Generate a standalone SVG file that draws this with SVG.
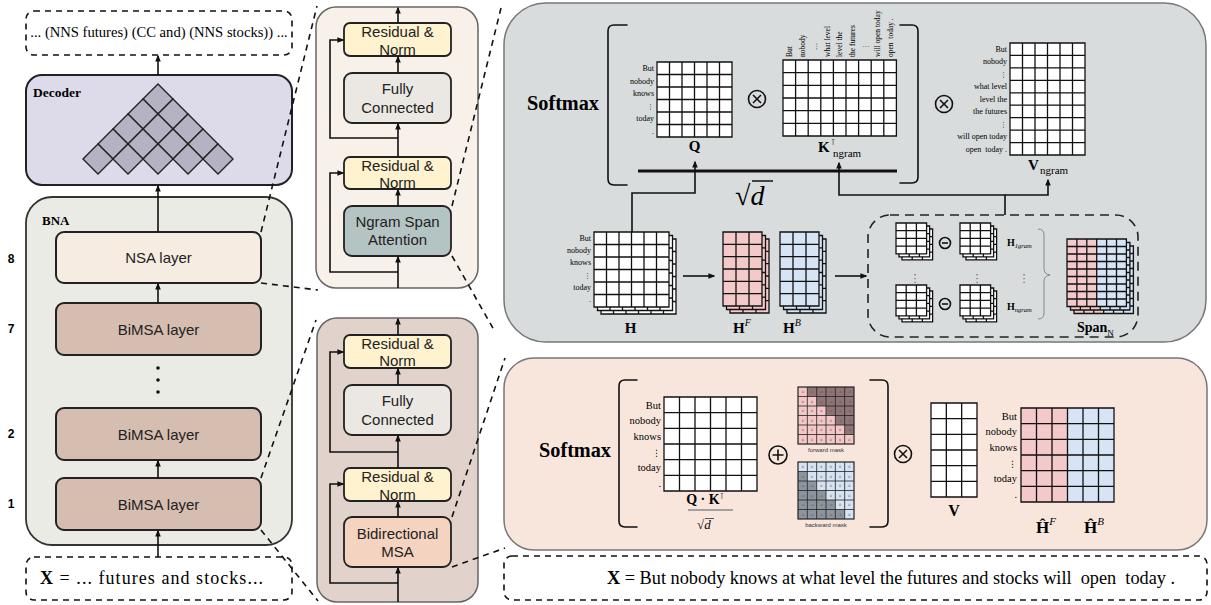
<svg xmlns="http://www.w3.org/2000/svg" xmlns:xlink="http://www.w3.org/1999/xlink" width="1211" height="605" viewBox="0 0 1211 605">
<style>
.sans{font-family:"Liberation Sans",Arial,sans-serif}
.serif{font-family:"Liberation Serif","Times New Roman","DejaVu Serif",serif}
.mth{font-family:"DejaVu Sans",sans-serif}
.lay{stroke:#222;stroke-width:2}
.mid{stroke:#222;stroke-width:1.8}
.gl{fill:none;stroke:#111;stroke-width:1.3}
.gm{fill:none;stroke:#222;stroke-width:0.8}
.dash{fill:none;stroke:#111;stroke-width:1.6;stroke-dasharray:6 5}
.con{fill:none;stroke:#111;stroke-width:1.6}
.arr{marker-end:url(#ah)}
.lt{font-size:15px;text-anchor:middle;fill:#222}
.num{font-size:12px;font-weight:bold;text-anchor:middle}
.lbl{font-size:8px;text-anchor:end}
.lbp{font-size:10.5px;text-anchor:end}
.mk{font-size:3.3px;text-anchor:middle;fill:#444;font-family:"DejaVu Sans",sans-serif}
.op{fill:none;stroke:#111;stroke-width:1.6}
</style>
<defs>
<marker id="ah" viewBox="0 0 10 10" refX="8" refY="5" markerWidth="7" markerHeight="7" orient="auto" markerUnits="userSpaceOnUse"><path d="M0 1L10 5L0 9Z" fill="#111"/></marker>
<path id="dm" d="M0 -15L15 0L0 15L-15 0Z" fill="#b5b3c3" stroke="#222" stroke-width="1.4"/>
<g id="gQ"><rect width="75" height="75" fill="#fff"/><path class="gl" d="M12.5 0V75M25 0V75M37.5 0V75M50 0V75M62.5 0V75M0 12.5H75M0 25H75M0 37.5H75M0 50H75M0 62.5H75M0 0H75V75H0Z"/></g>
<g id="gK"><rect width="113.4" height="76" fill="#fff"/><path class="gl" d="M12.6 0V76M25.2 0V76M37.8 0V76M50.4 0V76M63 0V76M75.6 0V76M88.2 0V76M100.8 0V76M0 12.67H113.4M0 25.33H113.4M0 38H113.4M0 50.67H113.4M0 63.33H113.4M0 0H113.4V76H0Z"/></g>
<g id="gV"><rect width="75" height="112" fill="#fff"/><path class="gl" d="M12.5 0V112M25 0V112M37.5 0V112M50 0V112M62.5 0V112M0 12.44H75M0 24.89H75M0 37.33H75M0 49.78H75M0 62.22H75M0 74.67H75M0 87.11H75M0 99.56H75M0 0H75V112H0Z"/></g>
<g id="stkH"><use xlink:href="#gQ" x="7" y="7"/><use xlink:href="#gQ" x="3.5" y="3.5"/><use xlink:href="#gQ"/></g>
<path id="l36" class="gl" d="M13 0V74M26 0V74M0 12.33H39M0 24.67H39M0 37H39M0 49.33H39M0 61.67H39M0 0H39V74H0Z"/>
<g id="gHF"><rect width="39" height="74" fill="#f4c9c9"/><use xlink:href="#l36"/></g>
<g id="gHB"><rect width="39" height="74" fill="#d6e4f6"/><use xlink:href="#l36"/></g>
<g id="stkF"><use xlink:href="#gHF" x="7" y="7"/><use xlink:href="#gHF" x="3.5" y="3.5"/><use xlink:href="#gHF"/></g>
<g id="stkB"><use xlink:href="#gHB" x="7" y="7"/><use xlink:href="#gHB" x="3.5" y="3.5"/><use xlink:href="#gHB"/></g>
<g id="gS"><rect width="30.6" height="30.8" fill="#fff"/><path class="gl" stroke-width="1.1" d="M10.2 0V30.8M20.4 0V30.8M0 7.7H30.6M0 15.4H30.6M0 23.1H30.6M0 0H30.6V30.8H0Z"/></g>
<g id="stkS"><use xlink:href="#gS" x="6" y="6"/><use xlink:href="#gS" x="3" y="3"/><use xlink:href="#gS"/></g>
<g id="gSp"><rect width="29.7" height="67.5" fill="#f4c9c9"/><rect x="29.7" width="29.7" height="67.5" fill="#d6e4f6"/><path class="gl" stroke-width="1.1" d="M9.9 0V67.5M19.8 0V67.5M29.7 0V67.5M39.6 0V67.5M49.5 0V67.5M0 7.5H59.4M0 15H59.4M0 22.5H59.4M0 30H59.4M0 37.5H59.4M0 45H59.4M0 52.5H59.4M0 60H59.4M0 0H59.4V67.5H0Z"/></g>
<path id="l66" class="gl" d="M15.5 0V94M31 0V94M46.5 0V94M62 0V94M77.5 0V94M0 15.67H93M0 31.33H93M0 47H93M0 62.67H93M0 78.33H93M0 0H93V94H0Z"/>
<path id="lm" class="gm" d="M9.33 0V57M18.67 0V57M28 0V57M37.33 0V57M46.67 0V57M0 9.5H56M0 19H56M0 28.5H56M0 38H56M0 47.5H56"/>
</defs>

<!-- ===== Left column ===== -->
<g id="output-text">
<rect x="26" y="11" width="266" height="44" rx="8" class="dash"/>
<text x="159" y="37" class="serif" font-size="14.6" text-anchor="middle">... (NNS futures) (CC and) (NNS stocks)) ...</text>
</g>
<g id="decoder">
<rect x="26" y="75" width="266" height="110" rx="16" fill="#dddbea" stroke="#222" stroke-width="2"/>
<text x="33" y="97" class="serif" font-size="13.5" font-weight="bold">Decoder</text>
<use xlink:href="#dm" x="158" y="99"/>
<use xlink:href="#dm" x="143" y="114"/><use xlink:href="#dm" x="173" y="114"/>
<use xlink:href="#dm" x="128" y="129"/><use xlink:href="#dm" x="158" y="129"/><use xlink:href="#dm" x="188" y="129"/>
<use xlink:href="#dm" x="113" y="144"/><use xlink:href="#dm" x="143" y="144"/><use xlink:href="#dm" x="173" y="144"/><use xlink:href="#dm" x="203" y="144"/>
<use xlink:href="#dm" x="98" y="159"/><use xlink:href="#dm" x="128" y="159"/><use xlink:href="#dm" x="158" y="159"/><use xlink:href="#dm" x="188" y="159"/><use xlink:href="#dm" x="218" y="159"/>
</g>
<g id="bna">
<rect x="26" y="197" width="266" height="348" rx="26" fill="#ebebe6" stroke="#333" stroke-width="1.8"/>
<text x="42" y="225" class="serif" font-size="13" font-weight="bold">BNA</text>
</g>
<g id="nsa-layer"><rect x="56" y="232" width="205" height="51" rx="8" fill="#f6ece2" class="lay"/><text x="158.5" y="263" class="sans lt">NSA layer</text></g>
<g id="bimsa-7"><rect x="56" y="303" width="205" height="52" rx="8" fill="#d5bdb0" class="lay"/><text x="158.5" y="334.5" class="sans lt">BiMSA layer</text></g>
<g id="bimsa-2"><rect x="56" y="408" width="205" height="52" rx="8" fill="#d5bdb0" class="lay"/><text x="158.5" y="439.5" class="sans lt">BiMSA layer</text></g>
<g id="bimsa-1"><rect x="56" y="478" width="205" height="52" rx="8" fill="#d5bdb0" class="lay"/><text x="158.5" y="509.5" class="sans lt">BiMSA layer</text></g>
<g id="layer-numbers" class="sans">
<text x="11" y="263" class="num">8</text><text x="11" y="333" class="num">7</text><text x="11" y="438" class="num">2</text><text x="11" y="508" class="num">1</text>
</g>
<g id="input-left">
<rect x="26" y="557" width="266" height="43" rx="8" class="dash"/>
<text x="40" y="584" class="serif" font-size="18" textLength="223" lengthAdjust="spacing"><tspan font-weight="bold">X</tspan> = ... futures and stocks...</text>
</g>

<!-- ===== Middle top panel (NSA layer detail) ===== -->
<g id="nsa-detail">
<rect x="316" y="7" width="162" height="281" rx="20" fill="#f8f1ea" stroke="#666" stroke-width="1.5"/>
<g id="nsa-rn1"><rect x="344" y="23" width="107" height="33" rx="6" fill="#fef2cf" class="mid"/><text x="397.5" y="37" class="sans lt">Residual &amp;</text><text x="397.5" y="54.5" class="sans lt">Norm</text></g>
<g id="nsa-fc"><rect x="344" y="73" width="107" height="50" rx="8" fill="#ebe8e3" class="mid"/><text x="397.5" y="94" class="sans lt">Fully</text><text x="397.5" y="113" class="sans lt">Connected</text></g>
<g id="nsa-rn2"><rect x="344" y="157" width="107" height="32" rx="6" fill="#fef2cf" class="mid"/><text x="397.5" y="171" class="sans lt">Residual &amp;</text><text x="397.5" y="187.5" class="sans lt">Norm</text></g>
<g id="nsa-attn"><rect x="344" y="206" width="107" height="50" rx="8" fill="#b4c4c2" class="mid"/><text x="397.5" y="227" class="sans lt">Ngram Span</text><text x="397.5" y="245" class="sans lt">Attention</text></g>
</g>

<!-- ===== Middle bottom panel (BiMSA layer detail) ===== -->
<g id="bimsa-detail">
<rect x="317" y="318" width="161" height="284" rx="20" fill="#e2d2cc" stroke="#666" stroke-width="1.5"/>
<g id="bi-rn1"><rect x="344" y="335" width="107" height="33" rx="6" fill="#fef2cf" class="mid"/><text x="397.5" y="349" class="sans lt">Residual &amp;</text><text x="397.5" y="366" class="sans lt">Norm</text></g>
<g id="bi-fc"><rect x="344" y="385" width="107" height="50" rx="8" fill="#ebe8e3" class="mid"/><text x="397.5" y="406" class="sans lt">Fully</text><text x="397.5" y="425" class="sans lt">Connected</text></g>
<g id="bi-rn2"><rect x="344" y="468" width="107" height="33" rx="6" fill="#fef2cf" class="mid"/><text x="397.5" y="482" class="sans lt">Residual &amp;</text><text x="397.5" y="499.5" class="sans lt">Norm</text></g>
<g id="bi-msa"><rect x="344" y="517" width="107" height="50" rx="8" fill="#f4d3c0" class="mid"/><text x="397.5" y="539" class="sans lt">Bidirectional</text><text x="397.5" y="557" class="sans lt">MSA</text></g>
</g>

<!-- ===== Grey panel: Ngram span attention ===== -->
<g id="nsa-panel">
<rect x="504" y="3" width="702" height="339" rx="42" fill="#d8dcdc" stroke="#777" stroke-width="1.5"/>
<text x="527" y="110" class="serif" font-size="20" font-weight="bold" textLength="72" lengthAdjust="spacingAndGlyphs">Softmax</text>
<path class="op" stroke-width="4" stroke-linecap="round" d="M627 25H614Q608 25 608 31V179Q608 185 614 185H627"/>
<path class="op" stroke-width="4" stroke-linecap="round" d="M900 25H912Q918 25 918 31V177Q918 183 912 183H900"/>
<line x1="638" y1="171" x2="897" y2="171" stroke="#111" stroke-width="3"/>
<text x="735" y="205" class="serif" font-size="28">√<tspan font-style="italic">d</tspan></text>
<line x1="752" y1="181" x2="773" y2="181" stroke="#111" stroke-width="1.5"/>
</g>
<g id="mat-q">
<use xlink:href="#gQ" x="657" y="62"/>
<g class="serif lbl"><text x="654" y="71">But</text><text x="654" y="83.5">nobody</text><text x="654" y="96">knows</text><text x="654" y="108.5" class="mth" font-size="7">⋮</text><text x="654" y="121">today</text><text x="654" y="133.5">.</text></g>
<text x="694.5" y="151" class="serif" font-size="15" font-weight="bold" text-anchor="middle">Q</text>
</g>
<g id="op-mul1"><circle cx="757" cy="99" r="8.5" class="op"/><path class="op" d="M753 95L761 103M761 95L753 103"/></g>
<g id="mat-k">
<use xlink:href="#gK" x="783" y="60"/>
<g class="serif" font-size="7.5">
<text transform="translate(792,57) rotate(-90)">But</text>
<text transform="translate(804.5,57) rotate(-90)">nobody</text>
<text transform="translate(817,50) rotate(-90)" class="mth" font-size="7">…</text>
<text transform="translate(829.7,57) rotate(-90)">what level</text>
<text transform="translate(842.3,57) rotate(-90)">level the</text>
<text transform="translate(854.9,57) rotate(-90)">the futures</text>
<text transform="translate(867.5,50) rotate(-90)" class="mth" font-size="7">⋮</text>
<text transform="translate(880.1,57) rotate(-90)">will open today</text>
<text transform="translate(892.7,57) rotate(-90)" xml:space="preserve">open  today .</text>
</g>
<text x="818" y="152" class="serif" font-size="15" font-weight="bold">K</text>
<text x="831" y="145" class="mth" font-size="8">⊺</text>
<text x="833" y="157" class="serif" font-size="11">ngram</text>
</g>
<g id="op-mul2"><circle cx="944" cy="104" r="8.5" class="op"/><path class="op" d="M940 100L948 108M948 100L940 108"/></g>
<g id="mat-v">
<use xlink:href="#gV" x="1010" y="43"/>
<g class="serif lbl">
<text x="1007" y="52">But</text><text x="1007" y="64.4">nobody</text><text x="1007" y="76.8" class="mth" font-size="7">⋮</text><text x="1007" y="89.2">what level</text><text x="1007" y="101.7">level the</text><text x="1007" y="114.1">the futures</text><text x="1007" y="126.6" class="mth" font-size="7">⋮</text><text x="1007" y="139">will open today</text><text x="1007" y="151.5" xml:space="preserve">open  today .</text>
</g>
<text x="1028" y="170" class="serif" font-size="15" font-weight="bold">V</text>
<text x="1040" y="174" class="serif" font-size="11">ngram</text>
</g>
<g id="mat-h">
<use xlink:href="#stkH" x="594" y="232"/>
<g class="serif lbl" font-size="7.5"><text x="591" y="240.8">But</text><text x="591" y="253.1">nobody</text><text x="591" y="265.4">knows</text><text x="591" y="277.8" class="mth" font-size="7">⋮</text><text x="591" y="290.1">today</text><text x="591" y="302.4">.</text></g>
<text x="630.5" y="333" class="serif" font-size="15" font-weight="bold" text-anchor="middle">H</text>
</g>
<g id="mat-hf"><use xlink:href="#stkF" x="723" y="232"/><text x="733" y="333" class="serif" font-size="15" font-weight="bold">H<tspan font-size="10" font-style="italic" font-weight="normal" dy="-7">F</tspan></text></g>
<g id="mat-hb"><use xlink:href="#stkB" x="780" y="232"/><text x="783" y="333" class="serif" font-size="15" font-weight="bold">H<tspan font-size="10" font-style="italic" font-weight="normal" dy="-7">B</tspan></text></g>
<g id="span-box">
<rect x="868" y="215" width="270" height="122" rx="22" fill="none" stroke="#222" stroke-width="1.6" stroke-dasharray="9 6"/>
<use xlink:href="#stkS" x="896" y="223"/><use xlink:href="#stkS" x="960" y="223"/>
<use xlink:href="#stkS" x="896" y="285"/><use xlink:href="#stkS" x="960" y="285"/>
<circle cx="945" cy="243" r="5.5" class="op" stroke-width="1.3"/><path class="op" stroke-width="1.3" d="M942 243H948"/>
<circle cx="945" cy="304" r="5.5" class="op" stroke-width="1.3"/><path class="op" stroke-width="1.3" d="M942 304H948"/>
<g class="mth" font-size="11" fill="#666" text-anchor="middle"><text x="915" y="282">⋮</text><text x="977" y="282">⋮</text><text x="1024" y="282">⋮</text></g>
<text x="1007" y="246" class="serif" font-size="10" font-weight="bold">H<tspan font-size="6.5" font-style="italic" font-weight="normal" dy="2">1gram</tspan></text>
<text x="1007" y="310" class="serif" font-size="10" font-weight="bold">H<tspan font-size="6.5" font-style="italic" font-weight="normal" dy="2">ngram</tspan></text>
<path d="M1038 229Q1044 229 1044 235V269Q1044 274 1050 275Q1044 276 1044 281V313Q1044 319 1038 319" fill="none" stroke="#888" stroke-width="1"/>
<use xlink:href="#gSp" x="1074" y="246"/><use xlink:href="#gSp" x="1070.5" y="242.5"/><use xlink:href="#gSp" x="1067" y="239"/>
<text x="1077" y="332" class="serif" font-size="14" font-weight="bold">Span<tspan font-size="9" font-weight="normal" dy="4">N</tspan></text>
</g>

<!-- ===== Pink panel: BiMSA ===== -->
<g id="bimsa-panel">
<rect x="504" y="358" width="703" height="192" rx="30" fill="#f8e6dd" stroke="#777" stroke-width="1.5"/>
<text x="539" y="457" class="serif" font-size="20" font-weight="bold" textLength="72" lengthAdjust="spacingAndGlyphs">Softmax</text>
<path class="op" stroke-width="4" stroke-linecap="round" d="M637 380H625Q619 380 619 386V521Q619 527 625 527H637"/>
<path class="op" stroke-width="4" stroke-linecap="round" d="M870 380H882Q888 380 888 386V521Q888 527 882 527H870"/>
</g>
<g id="mat-qk">
<rect x="664" y="397" width="93" height="94" fill="#fff"/><use xlink:href="#l66" x="664" y="397"/>
<g class="serif lbp"><text x="661" y="408.5">But</text><text x="661" y="424.2">nobody</text><text x="661" y="439.9">knows</text><text x="661" y="455.5" class="mth" font-size="9">⋮</text><text x="661" y="471.2">today</text><text x="661" y="486.9">.</text></g>
<text x="705" y="504" class="serif" font-size="14" font-weight="bold" text-anchor="middle">Q · K<tspan class="mth" font-size="8" font-weight="normal" dy="-5">⊺</tspan></text>
<line x1="688" y1="510" x2="733" y2="510" stroke="#8a8a8a" stroke-width="1.5"/>
<text x="697" y="529" class="serif" font-size="13">√<tspan font-style="italic">d</tspan></text>
<line x1="705" y1="518.5" x2="714" y2="518.5" stroke="#333" stroke-width="0.8"/>
</g>
<g id="op-add"><circle cx="778" cy="455" r="9" class="op"/><path class="op" d="M772.5 455H783.5M778 449.5V460.5"/></g>
<g id="forward-mask">
<rect x="798" y="387" width="56" height="57" fill="#f3c7c7"/>
<path fill="#8f7576" transform="translate(798,387)" d="M9.33 0H56V47.5H46.67V38H37.33V28.5H28V19H18.67V9.5H9.33Z"/>
<use xlink:href="#lm" x="798" y="387"/>
<rect x="798" y="387" width="56" height="57" fill="none" stroke="#222" stroke-width="1.2"/>
<text y="393" class="mk"><tspan x="802.7">0</tspan><tspan x="812">-∞</tspan><tspan x="821.3">-∞</tspan><tspan x="830.7">-∞</tspan><tspan x="840">-∞</tspan><tspan x="849.3">-∞</tspan></text>
<text y="402.5" class="mk"><tspan x="802.7">0</tspan><tspan x="812">0</tspan><tspan x="821.3">-∞</tspan><tspan x="830.7">-∞</tspan><tspan x="840">-∞</tspan><tspan x="849.3">-∞</tspan></text>
<text y="412" class="mk"><tspan x="802.7">0</tspan><tspan x="812">0</tspan><tspan x="821.3">0</tspan><tspan x="830.7">-∞</tspan><tspan x="840">-∞</tspan><tspan x="849.3">-∞</tspan></text>
<text y="421.5" class="mk"><tspan x="802.7">0</tspan><tspan x="812">0</tspan><tspan x="821.3">0</tspan><tspan x="830.7">0</tspan><tspan x="840">-∞</tspan><tspan x="849.3">-∞</tspan></text>
<text y="431" class="mk"><tspan x="802.7">0</tspan><tspan x="812">0</tspan><tspan x="821.3">0</tspan><tspan x="830.7">0</tspan><tspan x="840">0</tspan><tspan x="849.3">-∞</tspan></text>
<text y="440.5" class="mk"><tspan x="802.7">0</tspan><tspan x="812">0</tspan><tspan x="821.3">0</tspan><tspan x="830.7">0</tspan><tspan x="840">0</tspan><tspan x="849.3">0</tspan></text>
<text x="826" y="452" class="sans" font-size="6" text-anchor="middle" fill="#333">forward mask</text>
</g>
<g id="backward-mask">
<rect x="798" y="462" width="56" height="57" fill="#d5e3f3"/>
<path fill="#8c949d" transform="translate(798,462)" d="M0 9.5H9.33V19H18.67V28.5H28V38H37.33V47.5H46.67V57H0Z"/>
<use xlink:href="#lm" x="798" y="462"/>
<rect x="798" y="462" width="56" height="57" fill="none" stroke="#222" stroke-width="1.2"/>
<text y="468" class="mk"><tspan x="802.7">0</tspan><tspan x="812">0</tspan><tspan x="821.3">0</tspan><tspan x="830.7">0</tspan><tspan x="840">0</tspan><tspan x="849.3">0</tspan></text>
<text y="477.5" class="mk"><tspan x="802.7">-∞</tspan><tspan x="812">0</tspan><tspan x="821.3">0</tspan><tspan x="830.7">0</tspan><tspan x="840">0</tspan><tspan x="849.3">0</tspan></text>
<text y="487" class="mk"><tspan x="802.7">-∞</tspan><tspan x="812">-∞</tspan><tspan x="821.3">0</tspan><tspan x="830.7">0</tspan><tspan x="840">0</tspan><tspan x="849.3">0</tspan></text>
<text y="496.5" class="mk"><tspan x="802.7">-∞</tspan><tspan x="812">-∞</tspan><tspan x="821.3">-∞</tspan><tspan x="830.7">0</tspan><tspan x="840">0</tspan><tspan x="849.3">0</tspan></text>
<text y="506" class="mk"><tspan x="802.7">-∞</tspan><tspan x="812">-∞</tspan><tspan x="821.3">-∞</tspan><tspan x="830.7">-∞</tspan><tspan x="840">0</tspan><tspan x="849.3">0</tspan></text>
<text y="515.5" class="mk"><tspan x="802.7">-∞</tspan><tspan x="812">-∞</tspan><tspan x="821.3">-∞</tspan><tspan x="830.7">-∞</tspan><tspan x="840">-∞</tspan><tspan x="849.3">0</tspan></text>
<text x="826" y="527" class="sans" font-size="6" text-anchor="middle" fill="#333">backward mask</text>
</g>
<g id="op-mul3"><circle cx="903" cy="454" r="8.5" class="op"/><path class="op" d="M899 450L907 458M907 450L899 458"/></g>
<g id="mat-v2">
<rect x="931" y="403" width="46" height="94" fill="#fff"/>
<path class="gl" d="M946.33 403V497M961.67 403V497M931 418.67H977M931 434.33H977M931 450H977M931 465.67H977M931 481.33H977M931 403H977V497H931Z"/>
<text x="954" y="516" class="serif" font-size="16" font-weight="bold" text-anchor="middle">V</text>
</g>
<g id="mat-hhat">
<rect x="1021" y="408" width="46.5" height="94" fill="#f4c9c9"/><rect x="1067.5" y="408" width="46.5" height="94" fill="#d6e4f6"/>
<use xlink:href="#l66" x="1021" y="408"/>
<g class="serif lbp"><text x="1017" y="419.5">But</text><text x="1017" y="435.2">nobody</text><text x="1017" y="450.9">knows</text><text x="1017" y="466.5" class="mth" font-size="9">⋮</text><text x="1017" y="482.2">today</text><text x="1017" y="497.9">.</text></g>
<text x="1036" y="533" class="serif" font-size="17" font-weight="bold">Ĥ<tspan font-size="11" font-style="italic" font-weight="normal" dy="-8">F</tspan></text>
<text x="1084" y="533" class="serif" font-size="17" font-weight="bold">Ĥ<tspan font-size="11" font-style="italic" font-weight="normal" dy="-8">B</tspan></text>
</g>
<g id="input-right">
<rect x="504" y="556" width="703" height="44" rx="8" class="dash"/>
<text x="607" y="584" class="serif" font-size="18.3" textLength="568" lengthAdjust="spacing" xml:space="preserve"><tspan font-weight="bold">X</tspan> = But nobody knows at what level the futures and stocks will  open  today .</text>
</g>

<!-- ===== Connectors ===== -->
<g id="connectors">
<path class="con arr" d="M158 75V56"/>
<path class="con arr" d="M158 232V186"/>
<path class="con arr" d="M158 303V284"/>
<path class="con arr" d="M158 478V461"/>
<path class="con arr" d="M158 557V531"/>
<circle cx="158" cy="368" r="1.8" fill="#111"/><circle cx="158" cy="380" r="1.8" fill="#111"/><circle cx="158" cy="392" r="1.8" fill="#111"/>
<path class="con arr" d="M398 288V257"/>
<path class="con arr" d="M398 206V190"/>
<path class="con arr" d="M398 157V124"/>
<path class="con arr" d="M398 73V57"/>
<path class="con arr" d="M398 23V8"/>
<path class="con arr" d="M398 272H330V173H343"/>
<path class="con arr" d="M398 138H330V40H343"/>
<path class="con arr" d="M398 602V568"/>
<path class="con arr" d="M398 517V502"/>
<path class="con arr" d="M398 468V436"/>
<path class="con arr" d="M398 385V369"/>
<path class="con arr" d="M398 335V319"/>
<path class="con arr" d="M398 583H330V484H343"/>
<path class="con arr" d="M398 452H330V352H343"/>
<path class="con arr" stroke-width="1.3" d="M632 232V193H695V162"/>
<path class="con arr" stroke-width="1.3" d="M1005 215V195H839V163"/>
<path class="con arr" stroke-width="1.3" d="M1005 195H1048V180"/>
<path class="con arr" stroke-width="1.3" d="M683 276H714"/>
<path class="con arr" stroke-width="1.3" d="M835 276H866"/>
<path class="dash" d="M261 232L317 6"/>
<path class="dash" d="M261 283L318 290"/>
<path class="dash" d="M452 206L502 4"/>
<path class="dash" d="M452 256L494 330"/>
<path class="dash" d="M261 478L316 320"/>
<path class="dash" d="M261 530L318 601"/>
<path class="dash" d="M452 517L505 358"/>
<path class="dash" d="M452 567L505 548"/>
</g>
</svg>
